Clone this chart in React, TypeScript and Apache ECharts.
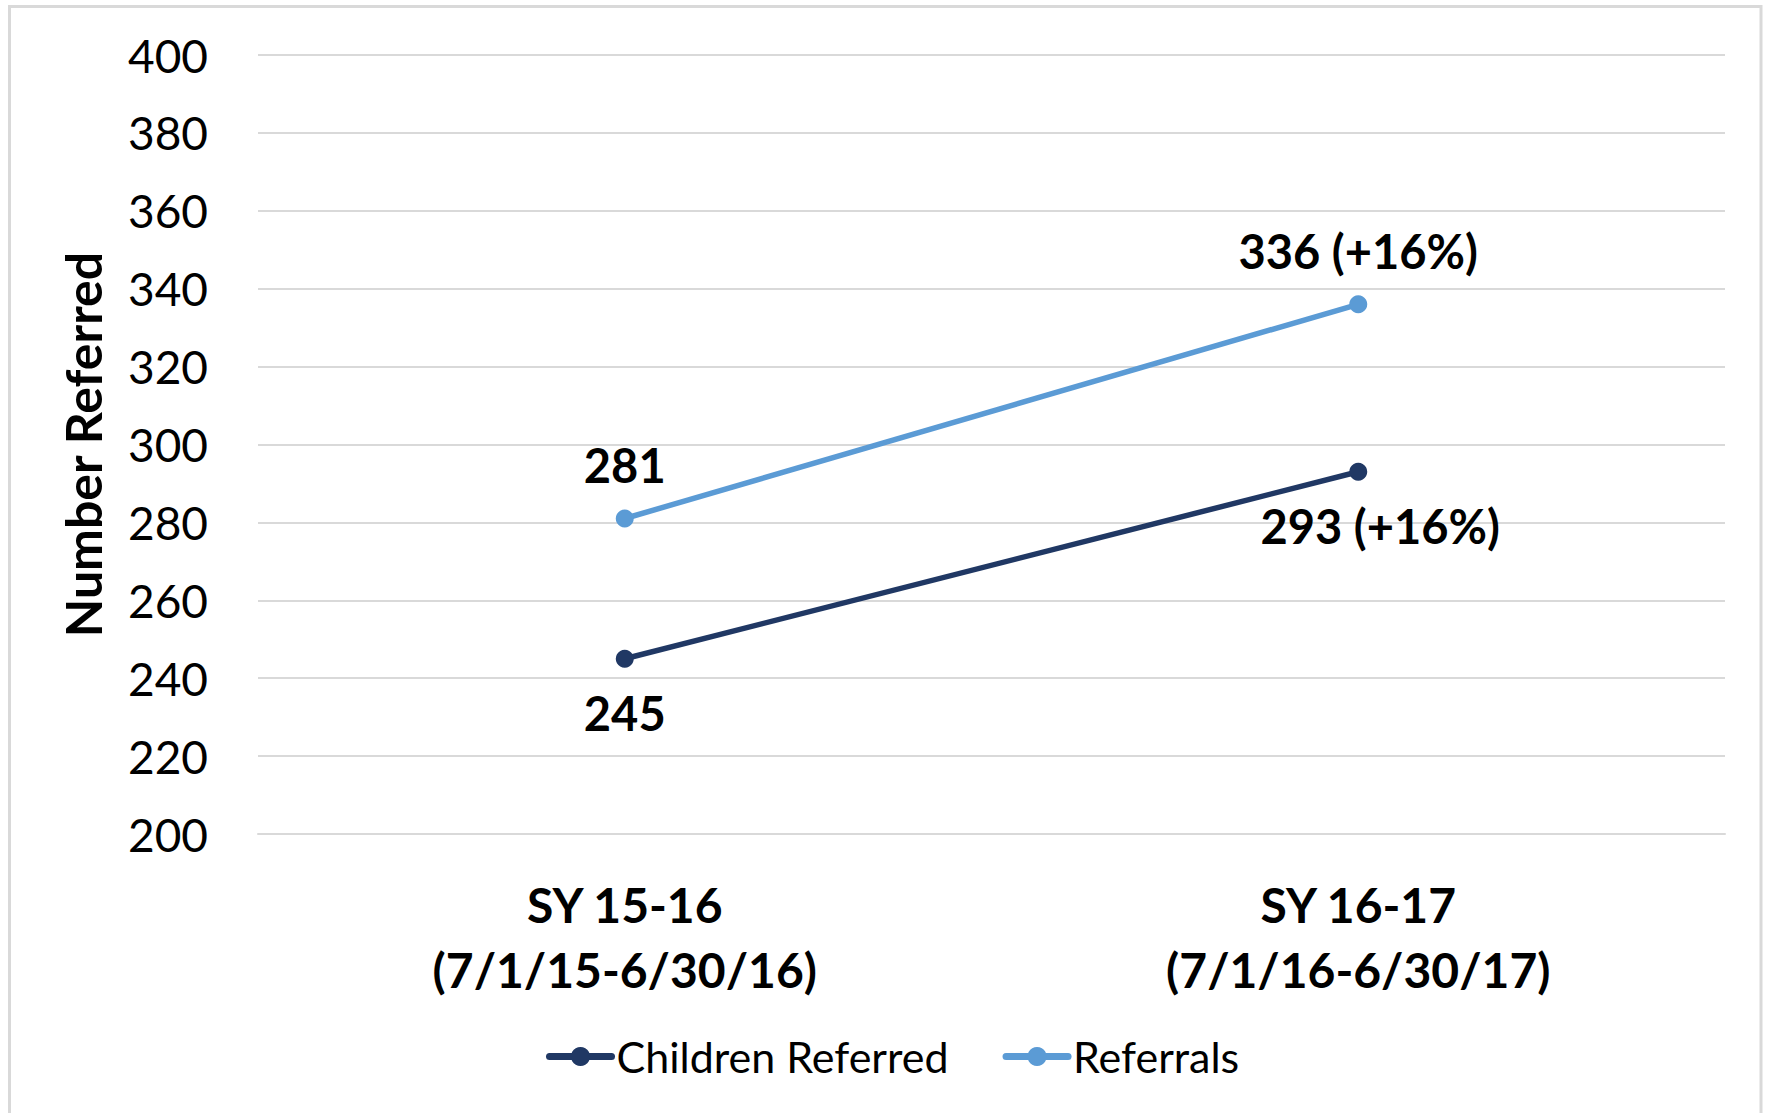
import React, { useEffect, useRef } from "react";
import * as echarts from "echarts";

const categories = ["SY 15-16\n(7/1/15-6/30/16)", "SY 16-17\n(7/1/16-6/30/17)"];
const childrenReferred = [245, 293];
const referrals = [281, 336];
const childrenChange = ["", "+16%"];
const referralsChange = ["", "+16%"];
const yMin = 200;
const yMax = 400;
const yStep = 20;

const FONT = "Lato, 'Noto Sans', sans-serif";

export default function App() {
  const ref = useRef<HTMLDivElement>(null);

  useEffect(() => {
    if (!ref.current) return;
    const chart = echarts.init(ref.current, null, { renderer: "svg" });
    const fmt = (changes: string[]) => (p: any) =>
      changes[p.dataIndex] ? `${p.value} (${changes[p.dataIndex]})` : `${p.value}`;

    const childrenData = childrenReferred.map((v, i) =>
      i === 1 ? { value: v, label: { offset: [22, 0] } } : v
    );

    chart.setOption({
      animation: false,
      backgroundColor: "#ffffff",
      textStyle: { fontFamily: FONT, color: "#000" },
      graphic: [
        {
          type: "rect",
          shape: { x: 9.5, y: 6.5, width: 1751.5, height: 1130 },
          style: { fill: "none", stroke: "#d9d9d9", lineWidth: 3 },
          silent: true,
        },
      ],
      grid: { left: 258, right: 41, top: 55, bottom: 279 },
      legend: {
        left: 541,
        top: 1030,
        itemWidth: 62,
        itemHeight: 24,
        itemGap: 54,
        lineStyle: { width: 7, cap: "round" },
        textStyle: { fontFamily: FONT, fontSize: 43, color: "#000" },
        data: ["Children Referred", "Referrals"],
      },
      xAxis: {
        type: "category",
        data: categories,
        boundaryGap: true,
        axisLine: { show: true, lineStyle: { color: "#d9d9d9", width: 2 } },
        axisTick: { show: false },
        axisLabel: {
          fontFamily: FONT,
          fontSize: 48,
          fontWeight: "bold",
          color: "#000",
          lineHeight: 65,
          margin: 38,
        },
      },
      yAxis: {
        type: "value",
        min: yMin,
        max: yMax,
        interval: yStep,
        name: "Number Referred",
        nameLocation: "middle",
        nameGap: 150,
        nameTextStyle: { fontFamily: FONT, fontSize: 50, fontWeight: "bold", color: "#000" },
        axisLine: { show: false },
        axisTick: { show: false },
        axisLabel: { fontFamily: FONT, fontSize: 46, color: "#000", margin: 50 },
        splitLine: { lineStyle: { color: "#d9d9d9", width: 2 } },
      },
      series: [
        {
          name: "Children Referred",
          type: "line",
          data: childrenData,
          symbol: "circle",
          symbolSize: 18,
          lineStyle: { color: "#203864", width: 5.5 },
          itemStyle: { color: "#203864" },
          label: {
            show: true,
            position: "bottom",
            distance: 22,
            formatter: fmt(childrenChange),
            fontFamily: FONT,
            fontSize: 47,
            fontWeight: "bold",
            color: "#000",
          },
        },
        {
          name: "Referrals",
          type: "line",
          data: referrals,
          symbol: "circle",
          symbolSize: 18,
          lineStyle: { color: "#5B9BD5", width: 5.5 },
          itemStyle: { color: "#5B9BD5" },
          label: {
            show: true,
            position: "top",
            distance: 21,
            formatter: fmt(referralsChange),
            fontFamily: FONT,
            fontSize: 47,
            fontWeight: "bold",
            color: "#000",
          },
        },
      ],
    });
    return () => chart.dispose();
  }, []);

  return (
    <div
      ref={ref}
      style={{ position: "fixed", left: 0, top: 0, width: 1766, height: 1113, background: "#fff" }}
    />
  );
}
